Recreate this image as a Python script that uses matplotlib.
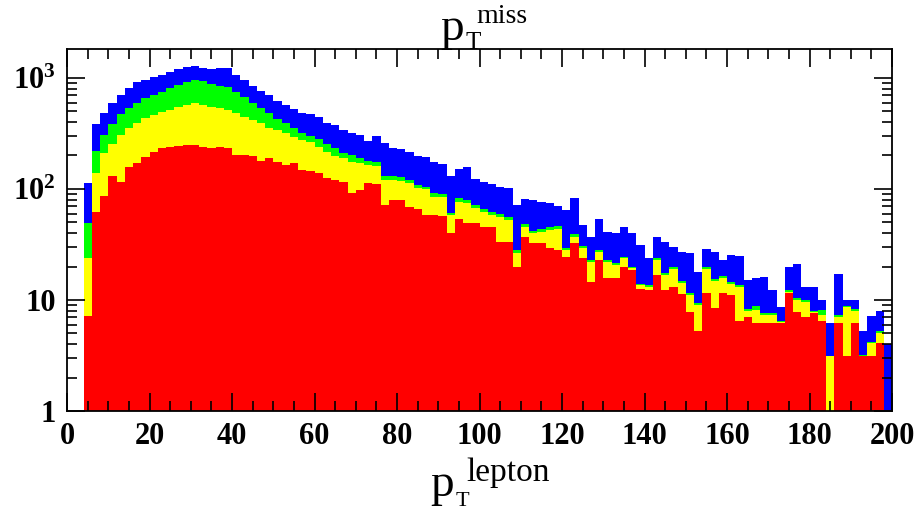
import numpy as np
import matplotlib
matplotlib.use("Agg")
import matplotlib.pyplot as plt
from matplotlib.ticker import FixedLocator, NullFormatter

# ---------------- data (bin contents, 2 GeV bins from 0 to 200) ----------------
bin_edges = np.arange(0, 202, 2)

blue_total = [0, 0, 113, 388, 481, 597, 703, 815, 920, 960,
              1014, 1072, 1140, 1192, 1245, 1287, 1230, 1195, 1220, 1230,
              1064, 960, 840, 766, 698, 617, 567, 527, 480, 470,
              440, 390, 380, 337, 320, 306, 270, 298, 258, 232,
              230, 213, 199, 192, 173, 166, 131, 151, 156, 123,
              116, 110, 104, 102, 71, 81, 80, 77, 74, 70,
              65, 82, 47, 37, 54, 41, 40, 45, 40, 31,
              24, 37, 33.5, 30, 27.3, 26.3, 18, 28.6, 27.3, 22.9,
              25.4, 25, 15.2, 15.7, 16, 12.3, 8.7, 20, 21, 13.2,
              13, 10, 6.2, 17, 10, 10, 5.3, 7.1, 8, 4]

green_sum = [0, 0, 49, 220, 305, 385, 470, 538, 600, 656,
             708, 745, 812, 862, 926, 960, 940, 880, 850, 835,
             740, 668, 600, 533, 480, 425, 390, 352, 322, 298,
             280, 255, 232, 210, 200, 189, 180, 175, 130, 130,
             127, 120, 108, 105, 91, 90, 61, 82, 79, 71,
             66, 62, 59, 56, 28, 48, 42, 43.5, 45, 46,
             29.5, 39, 30.5, 23, 28, 23, 21.5, 24.5, 20, 14,
             13.5, 24, 17.5, 19.8, 14.8, 11.6, 9.4, 19.8, 15.3, 16.5,
             14.6, 13.5, 8.3, 8.8, 7.6, 7.6, 6.5, 12.2, 10.4, 9.9,
             8.0, 8.1, 3.1, 7.3, 8.9, 8.3, 3.2, 4.2, 5.2, 0]

yellow_sum = [0, 0, 24, 140, 210, 256, 306, 352, 391, 433,
              464, 497, 515, 552, 571, 591, 575, 552, 533, 515,
              481, 448, 418, 391, 357, 340, 318, 296, 276, 262,
              240, 215, 196, 188, 176, 170, 165, 161, 121, 121,
              119, 113, 101, 99, 85, 85, 58, 77, 74, 67,
              62.5, 58.3, 56, 53, 26.3, 45.8, 40, 41.3, 43, 44,
              28.2, 37.2, 29.2, 22.1, 26.8, 22.1, 20.6, 23.7, 19.3, 13.5,
              13, 23, 16.8, 19, 14.2, 11.1, 9, 19, 14.7, 15.9,
              14, 13, 8, 8.1, 7.3, 7.3, 6.3, 11.8, 10, 9.5,
              7.8, 7.3, 3.1, 7, 8.7, 8, 3.1, 4.1, 5, 0]

red_part = [0, 0, 7.1, 62, 86, 130, 116, 159, 170, 195,
            217, 234, 240, 245, 249, 249, 240, 235, 240, 232,
            202, 202, 196, 179, 189, 176, 165, 170, 148, 145,
            138, 125, 121, 116, 91, 98, 113, 111, 72, 79.6,
            79.6, 69.3, 66, 58.3, 58, 57, 39.9, 53.3, 49, 49,
            45.8, 45.8, 33.5, 33.5, 20, 37.2, 32.4, 32.4, 29.2, 28,
            24.6, 32.4, 24, 14.6, 22.9, 15.7, 15.7, 20, 18.6, 12.5,
            12.4, 16.8, 12.4, 13.2, 11.3, 7.85, 5.2, 11.5, 8.4, 11.5,
            11, 6.4, 7, 6.2, 6.2, 6.2, 6.2, 11.5, 7.85, 7,
            7.6, 6.4, 0, 6.2, 3.1, 6.2, 3.1, 3.1, 4.1, 0]

series = [(blue_total, "#0000ff"), (green_sum, "#00ff00"),
          (yellow_sum, "#ffff00"), (red_part, "#ff0000")]

x_ticks = [0, 20, 40, 60, 80, 100, 120, 140, 160, 180, 200]
y_ticks = [1, 10, 100, 1000]
y_tick_labels = ["1", "10", r"$10^{2}$", r"$10^{3}$"]

# ---------------- figure ----------------
plt.rcParams["mathtext.fontset"] = "custom"
plt.rcParams["mathtext.rm"] = "Liberation Serif:bold"
plt.rcParams["mathtext.it"] = "Liberation Serif"
plt.rcParams["mathtext.bf"] = "Liberation Serif:bold"
plt.rcParams["font.family"] = ["Liberation Serif", "DejaVu Serif"]

W, H = 919, 513
fig = plt.figure(figsize=(W / 100, H / 100), dpi=100)
ax = fig.add_axes([67 / W, (H - 411) / H, 825 / W, 362 / H])

for vals, col in series:
    ax.stairs(vals, bin_edges, fill=True, baseline=0.01, color=col,
              linewidth=0, zorder=1)

ax.set_yscale("log")
ax.set_xlim(0, 200)
ax.set_ylim(1, 1820)

ax.set_xticks(x_ticks)
ax.set_xticklabels([str(v) for v in x_ticks])
ax.xaxis.set_minor_locator(FixedLocator(np.arange(0, 201, 5)))
ax.set_yticks(y_ticks)
ax.set_yticklabels(y_tick_labels)
ax.yaxis.set_minor_locator(FixedLocator(
    [m * 10 ** e for e in range(0, 4) for m in range(2, 10)]))
ax.yaxis.set_minor_formatter(NullFormatter())

ax.tick_params(axis="both", which="both", direction="in",
               top=True, right=True, width=1.2, color="black")
ax.tick_params(axis="x", which="major", length=13, pad=8,
               labelsize=22)
ax.tick_params(axis="x", which="minor", length=7)
ax.tick_params(axis="y", which="major", length=13, pad=8,
               labelsize=22)
ax.tick_params(axis="y", which="minor", length=7)
for lab in ax.get_xticklabels() + ax.get_yticklabels():
    lab.set_fontweight("bold")

for sp in ax.spines.values():
    sp.set_linewidth(1.3)
    sp.set_zorder(5)


def px(x, y):
    return x / W, 1 - y / H


# title  p_T^miss  (pieces placed by baseline)
fig.text(*px(440, 40), "p", fontsize=34, ha="left", va="baseline")
fig.text(*px(466, 49), "T", fontsize=18, ha="left", va="baseline")
fig.text(*px(476, 23), "miss", fontsize=20, ha="left", va="baseline")

# x-axis label  p_T^lepton
fig.text(*px(430, 496), "p", fontsize=34, ha="left", va="baseline")
fig.text(*px(456, 506), "T", fontsize=16, ha="left", va="baseline")
fig.text(*px(466, 481), "lepton", fontsize=24, ha="left", va="baseline")

fig.savefig("out.png", dpi=100)
